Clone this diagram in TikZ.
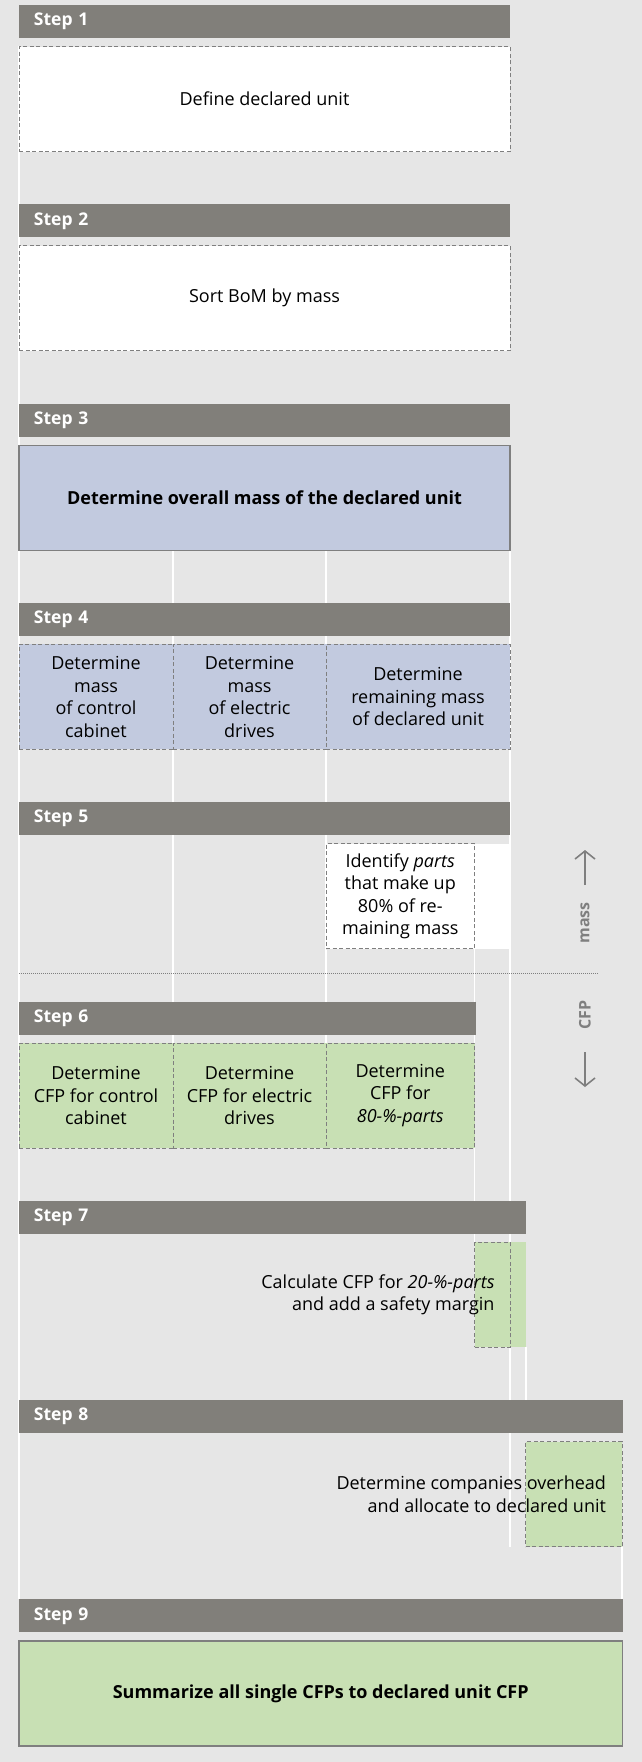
\documentclass[tikz,border=0pt]{standalone}
\usepackage{fontspec}
\setmainfont{Open Sans}
\usepackage{tikz}
\usetikzlibrary{arrows.meta}
\definecolor{bg}{HTML}{E6E6E6}
\definecolor{bargray}{HTML}{817F7A}
\definecolor{massblue}{HTML}{C2CADF}
\definecolor{cfpgreen}{HTML}{C8E0B4}
\definecolor{linegray}{HTML}{7F7F7F}

\begin{document}
\begin{tikzpicture}[x=1pt,y=-1pt,
  every node/.style={font=\fontsize{18}{22.5}\selectfont, inner sep=0pt, outer sep=0pt, anchor=north west},
  bar/.style={fill=bargray, text=white, font=\fontsize{17.5}{22.5}\selectfont\bfseries, minimum width=#1, minimum height=33pt, align=left, inner xsep=15pt, text width={#1-30}},
  box/.style={minimum width=#1, minimum height=105pt, align=center},
  dbox/.style={box=#1, draw=linegray, dash pattern=on 4pt off 2.5pt, line width=1pt},
  sbox/.style={box=#1, draw=linegray, line width=1.2pt, font=\fontsize{18}{22.5}\selectfont\bfseries},
  side/.style={anchor=center, rotate=90, text=linegray, font=\fontsize{16}{19}\selectfont\bfseries},
  guide/.style={white, line width=1.5pt}]
\fill[bg] (0,0) rectangle (642,1762);
\draw[guide] (19,46) -- (19,1599);
\draw[guide] (173,550) -- (173,1043);
\draw[guide] (326,550) -- (326,1043);
\draw[guide] (474.5,948) -- (474.5,1242);
\draw[guide] (510,550) -- (510,1547);
\draw[guide] (526,1347) -- (526,1400);
\draw[guide] (622,1547) -- (622,1599);
\draw[linegray, line width=0.8pt, dash pattern=on 1pt off 1pt] (19,973) -- (599,973);

\node[bar=491] (s1) at (19,5) {Step 1};
\node[dbox=491, fill=white] (b1) at (19,46.5) {Define declared unit};

\node[bar=491] (s2) at (19,204.3) {Step 2};
\node[dbox=491, fill=white] (b2) at (19,245.8) {Sort BoM by mass};

\node[bar=491] (s3) at (19,403.6) {Step 3};
\node[sbox=491, fill=massblue] (b3) at (19,445.1) {Determine overall mass of the declared unit};

\node[bar=491] (s4) at (19,602.9) {Step 4};
\node[dbox=154, fill=massblue] (b4a) at (19,644.4) {Determine\\mass\\of control\\cabinet};
\node[dbox=153, fill=massblue] (b4b) at (173,644.4) {Determine\\mass\\of electric\\drives};
\node[dbox=184, fill=massblue] (b4c) at (326,644.4) {Determine\\remaining mass\\of declared unit};

\node[bar=491] (s5) at (19,802.2) {Step 5};
\node[box=35.5, fill=white] (r5) at (474.5,843.7) {};
\node[dbox=148.5, fill=white] (b5) at (326,843.7) {Identify \textit{parts}\\that make up\\80\% of re-\\maining mass};

\node[side] (mass) at (585,923) {mass};
\node[side] (cfp) at (585,1015) {CFP};
\coordinate (m1) at (585,885);
\coordinate (m2) at (585,850);
\coordinate (c1) at (585,1052);
\coordinate (c2) at (585,1087);
\draw[linegray, line width=1.6pt, -{Straight Barb[length=8pt,width=20pt]}] (m1) -- (m2);
\draw[linegray, line width=1.6pt, -{Straight Barb[length=8pt,width=20pt]}] (c1) -- (c2);

\node[bar=457] (s6) at (19,1001.5) {Step 6};
\node[dbox=154, fill=cfpgreen] (b6a) at (19,1043) {Determine\\CFP for control\\cabinet};
\node[dbox=153, fill=cfpgreen] (b6b) at (173,1043) {Determine\\CFP for electric\\drives};
\node[dbox=148.5, fill=cfpgreen] (b6c) at (326,1043) {Determine\\CFP for\\\textit{80-\%-parts}};

\node[bar=507] (s7) at (19,1200.8) {Step 7};
\node[box=51.5, fill=cfpgreen] (g7) at (474.5,1242.3) {};
\node[dbox=35.5, fill=cfpgreen] (b7) at (474.5,1242.3) {};
\node[anchor=east, align=right] (t7) at (494.5,1294.8) {Calculate CFP for \textit{20-\%-parts}\\and add a safety margin};

\node[bar=603.5] (s8) at (19,1400.1) {Step 8};
\node[dbox=96.5, fill=cfpgreen] (b8) at (525.5,1441.6) {};
\node[anchor=east, align=right] (t8) at (606,1494.1) {Determine companies overhead\\and allocate to declared unit};

\node[bar=603.5] (s9) at (19,1599.4) {Step 9};
\node[sbox=603.5, fill=cfpgreen] (b9) at (19,1640.9) {Summarize all single CFPs to declared unit CFP};
\end{tikzpicture}
\end{document}
